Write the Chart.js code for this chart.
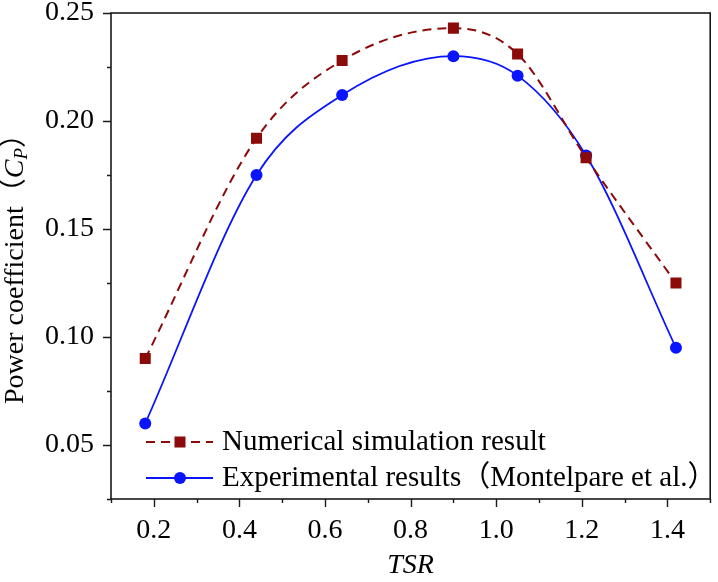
<!DOCTYPE html>
<html>
<head>
<meta charset="utf-8">
<script src="https://cdn.jsdelivr.net/npm/chart.js@4/dist/chart.umd.min.js"></script>
<style>
  html, body { margin: 0; padding: 0; background: #fff; }
  canvas { display: block; }
</style>
</head>
<body>
<canvas id="chart" width="718" height="582"></canvas>
<script>
// Power coefficient vs TSR: simulation vs experiment
const tsr = [0.18, 0.44, 0.64, 0.90, 1.05, 1.21, 1.42];
const cpSimulation = [0.090, 0.192, 0.228, 0.243, 0.231, 0.183, 0.125];
const cpExperiment = [0.060, 0.175, 0.212, 0.230, 0.221, 0.184, 0.095];

const xMajorTicks = [0.2, 0.4, 0.6, 0.8, 1.0, 1.2, 1.4];
const xMinorTicks = [0.1, 0.3, 0.5, 0.7, 0.9, 1.1, 1.3, 1.5];
const yMajorTicks = [0.05, 0.10, 0.15, 0.20, 0.25];
const yMinorTicks = [0.025, 0.075, 0.125, 0.175, 0.225];

const seriesNames = ['Numerical simulation result', 'Experimental results（Montelpare et al.）'];

const SERIF = '"Liberation Serif", "Times New Roman", "Noto Sans CJK SC", serif';
const AXIS = '#1a1a1a';

function pts(ys) {
  return tsr.map((x, i) => ({ x: x, y: ys[i] }));
}

function tickList(major, minor) {
  return major.concat(minor).sort((a, b) => a - b).map(v => ({ value: v, major: major.includes(v) }));
}

// box, tick marks, axis titles and legend
const decorations = {
  id: 'decorations',
  afterDraw(chart) {
    const ctx = chart.ctx;
    const a = chart.chartArea;
    const xs = chart.scales.x;
    const ys = chart.scales.y;
    ctx.save();
    ctx.strokeStyle = AXIS;
    ctx.lineWidth = 1.6;
    ctx.strokeRect(a.left, a.top, a.right - a.left, a.bottom - a.top);

    ctx.lineWidth = 1.4;
    ctx.beginPath();
    xs.ticks.forEach(t => {
      const px = Math.round(xs.getPixelForValue(t.value)) + 0.5;
      const len = t.major ? 8 : 4;
      ctx.moveTo(px, a.bottom);
      ctx.lineTo(px, a.bottom + len);
    });
    ys.ticks.forEach(t => {
      const py = Math.round(ys.getPixelForValue(t.value)) + 0.5;
      const len = t.major ? 8 : 4;
      ctx.moveTo(a.left, py);
      ctx.lineTo(a.left - len, py);
    });
    ctx.stroke();

    // x title
    ctx.fillStyle = '#000';
    ctx.font = 'italic 28px ' + SERIF;
    ctx.textAlign = 'center';
    ctx.textBaseline = 'middle';
    ctx.fillText('TSR', (a.left + a.right) / 2, 566);

    // y title, rotated, with italic C and subscript P
    const parts = [
      { t: 'Power coefficient', f: '28px ' + SERIF, dy: 0 },
      { t: '（', f: '28px ' + SERIF, dy: 0 },
      { t: 'C', f: 'italic 28px ' + SERIF, dy: 0 },
      { t: 'P', f: 'italic 19px ' + SERIF, dy: 6 },
      { t: '）', f: '28px ' + SERIF, dy: 0 }
    ];
    let total = 0;
    parts.forEach(p => { ctx.font = p.f; p.w = ctx.measureText(p.t).width; total += p.w; });
    ctx.translate(16, 262);
    ctx.rotate(-Math.PI / 2);
    ctx.textAlign = 'left';
    ctx.textBaseline = 'middle';
    let cx = -total / 2;
    parts.forEach(p => {
      ctx.font = p.f;
      ctx.fillText(p.t, cx, p.dy);
      cx += p.w;
    });
    ctx.setTransform(1, 0, 0, 1, 0, 0);

    // legend
    const rows = [442, 478];
    chart.data.datasets.forEach((ds, i) => {
      const y = rows[i];
      ctx.strokeStyle = ds.borderColor;
      ctx.lineWidth = ds.borderWidth;
      ctx.setLineDash(ds.borderDash || []);
      ctx.beginPath();
      ctx.moveTo(146, y);
      ctx.lineTo(213, y);
      ctx.stroke();
      ctx.setLineDash([]);
      ctx.fillStyle = ds.backgroundColor;
      Chart.helpers.drawPoint(ctx, {
        pointStyle: ds.pointStyle,
        radius: ds.pointRadius,
        borderWidth: 0
      }, 180, y);
      ctx.fillStyle = '#000';
      ctx.font = '29px ' + SERIF;
      ctx.textAlign = 'left';
      ctx.textBaseline = 'middle';
      ctx.fillText(ds.label, 222, y);
    });
    ctx.restore();
  }
};

new Chart(document.getElementById('chart'), {
  type: 'line',
  data: {
    datasets: [
      {
        label: seriesNames[0],
        data: pts(cpSimulation),
        borderColor: '#8b0a0a',
        backgroundColor: '#8b0a0a',
        borderWidth: 2,
        borderDash: [9, 6],
        pointStyle: 'rect',
        pointRadius: 7.8,
        pointBorderWidth: 0,
        cubicInterpolationMode: 'monotone'
      },
      {
        label: seriesNames[1],
        data: pts(cpExperiment),
        borderColor: '#0a14ff',
        backgroundColor: '#0a14ff',
        borderWidth: 1.8,
        pointStyle: 'circle',
        pointRadius: 6,
        pointBorderWidth: 0,
        cubicInterpolationMode: 'monotone'
      }
    ]
  },
  options: {
    responsive: false,
    animation: false,
    devicePixelRatio: 1,
    layout: { padding: { top: 13, right: 3, left: 0, bottom: 0 } },
    plugins: { legend: { display: false }, tooltip: { enabled: false } },
    scales: {
      x: {
        type: 'linear',
        min: 0.1,
        max: 1.5,
        afterBuildTicks: s => { s.ticks = tickList(xMajorTicks, xMinorTicks); },
        afterFit: s => { s.height = 83; s.paddingLeft = 0; s.paddingRight = 0; },
        grid: { display: false, drawTicks: false },
        border: { display: false },
        ticks: {
          autoSkip: false,
          maxRotation: 0,
          padding: 15,
          color: '#000',
          font: { family: SERIF, size: 28 },
          callback: v => xMajorTicks.includes(v) ? v.toFixed(1) : ''
        }
      },
      y: {
        min: 0.025,
        max: 0.25,
        afterBuildTicks: s => { s.ticks = tickList(yMajorTicks, yMinorTicks); },
        afterFit: s => { s.width = 111; s.paddingTop = 0; s.paddingBottom = 0; },
        grid: { display: false, drawTicks: false },
        border: { display: false },
        ticks: {
          autoSkip: false,
          padding: 17,
          color: '#000',
          font: { family: SERIF, size: 28 },
          callback: v => yMajorTicks.includes(v) ? v.toFixed(2) : ''
        }
      }
    }
  },
  plugins: [decorations]
});
</script>
</body>
</html>
